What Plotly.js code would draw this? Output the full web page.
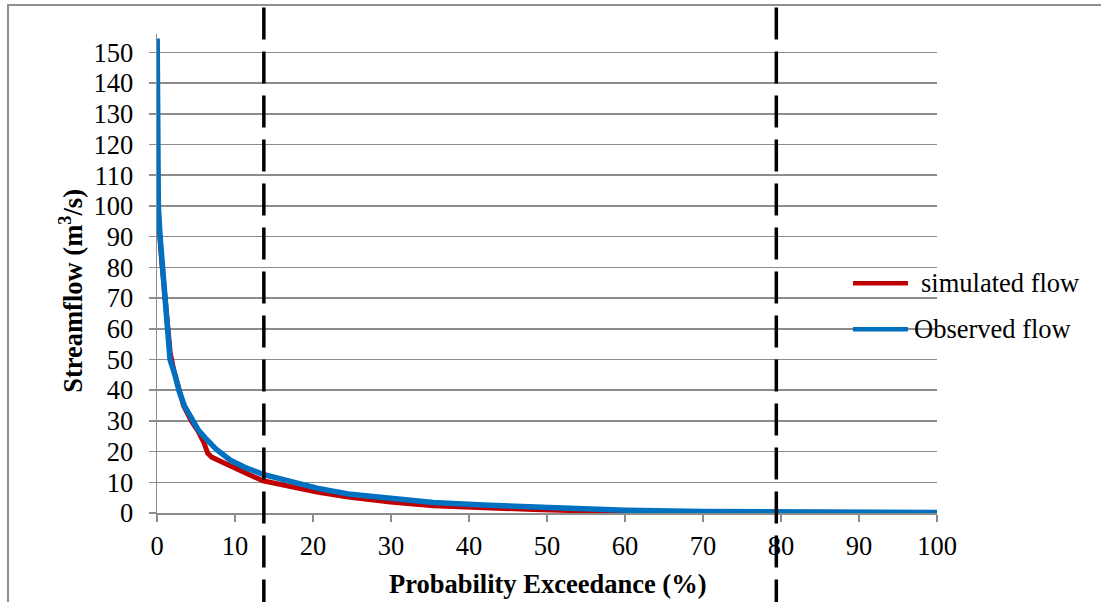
<!DOCTYPE html>
<html>
<head>
<meta charset="utf-8">
<script src="https://cdn.plot.ly/plotly-3.0.1.min.js"></script>
<style>
  html, body { margin: 0; padding: 0; background: #fff; overflow: hidden; }
  #wrap { position: relative; width: 1101px; height: 602px; overflow: hidden; }
  #frame { position: absolute; left: 7px; top: 4px; width: 1200px; height: 700px;
           border: 2px solid #8f8f8f; pointer-events: none; }
  #chart { position: absolute; left: 0; top: 0; width: 1101px; height: 602px; }
</style>
</head>
<body>
<div id="wrap">
  <div id="chart"></div>
  <div id="frame"></div>
</div>
<script>
// Flow duration curves (probability of exceedance %, streamflow m3/s)
const simX = [0, 0.3, 0.6, 1.0, 1.3, 1.7, 2.2, 2.8, 3.4, 4.4, 5.3, 6.0, 6.5, 7.0, 8.5, 10.6, 11.9, 13.6, 17.1, 20.5, 24.5, 29.9, 35.4, 41.8, 48.2, 54.6, 60, 70, 80, 90, 100];
const simY = [98, 92, 82, 72, 62, 52, 46, 40, 35, 30, 26.5, 23, 19.5, 18.2, 16.3, 14, 12.4, 10.5, 8.5, 6.8, 5.2, 3.6, 2.4, 1.6, 1.1, 0.7, 0.45, 0.15, 0.1, 0.05, 0.03];

const obsX = [0.02, 0.1, 0.17, 0.4, 0.73, 1.07, 1.37, 1.67, 2.3, 2.8, 3.5, 4.4, 5.3, 6.2, 7.7, 9.4, 11.5, 13.6, 17.1, 20.5, 24.5, 29.9, 35.4, 41.8, 48.2, 54.6, 60, 70, 80, 90, 100];
const obsY = [154.5, 130, 100, 90, 80, 70, 60, 50, 45, 40, 35, 31.3, 27, 24.4, 20.5, 17.2, 14.6, 12.6, 10.2, 8.1, 6.2, 4.8, 3.4, 2.6, 2.0, 1.5, 0.9, 0.45, 0.25, 0.2, 0.15];

const seriesNames = ['simulated flow', 'Observed flow'];
const seriesColors = ['#C00000', '#0070C0'];
const thresholds = [13.7, 79.4];           // dashed vertical markers (%)
const yTicks = [0,10,20,30,40,50,60,70,80,90,100,110,120,130,140,150];
const xTicks = [0,10,20,30,40,50,60,70,80,90,100];

const serif = '"Liberation Serif", "Times New Roman", serif';
const fs = 26.5;

const traces = [
  { x: simX, y: simY, type: 'scatter', mode: 'lines', name: seriesNames[0],
    line: { color: seriesColors[0], width: 5 }, showlegend: false },
  { x: obsX, y: obsY, type: 'scatter', mode: 'lines', name: seriesNames[1],
    line: { color: seriesColors[1], width: 5.5 }, showlegend: false }
];

const shapes = thresholds.map(v => ({
  type: 'line', xref: 'x', yref: 'paper', x0: v, x1: v, y0: 1.0555, y1: -0.21,
  line: { color: '#000', width: 3.5, dash: '32px,12px' }, layer: 'above'
}));

// custom legend (long line samples as in the original)
const legY = [0.4798, 0.3838];
const legTextX = [0.9769, 0.9679];
seriesNames.forEach((n, i) => {
  shapes.push({ type: 'line', xref: 'paper', yref: 'paper', x0: 0.8923, x1: 0.9628,
    y0: legY[i], y1: legY[i], line: { color: seriesColors[i], width: 4.5 } });
});

const annotations = seriesNames.map((n, i) => ({
  text: n, xref: 'paper', yref: 'paper', x: legTextX[i], y: legY[i],
  xanchor: 'left', yanchor: 'middle', showarrow: false,
  font: { family: serif, size: fs, color: '#000' }
}));
annotations.push({
  text: '<b>Probability Exceedance (%)</b>', xref: 'paper', yref: 'paper',
  x: 0.5, y: -0.148, xanchor: 'center', yanchor: 'middle', showarrow: false,
  font: { family: serif, size: fs, color: '#000' }
});
annotations.push({
  text: '<b>Streamflow (m<sup>3</sup>/s)</b>', xref: 'paper', yref: 'paper',
  x: -0.1095, y: 0.463, xanchor: 'center', yanchor: 'middle', textangle: -90,
  showarrow: false, font: { family: serif, size: fs, color: '#000' }
});

const layout = {
  width: 1101, height: 602,
  margin: { l: 157, r: 164, t: 34, b: 89, pad: 0 },
  paper_bgcolor: 'rgba(0,0,0,0)', plot_bgcolor: 'rgba(0,0,0,0)',
  showlegend: false,
  font: { family: serif, size: fs, color: '#000' },
  xaxis: {
    range: [0, 100], tickvals: xTicks, ticktext: xTicks.map(String),
    showgrid: false, zeroline: false,
    showline: true, linecolor: '#8c8c8c', linewidth: 1.5,
    ticks: 'outside', ticklen: 7, tickwidth: 1.5, tickcolor: '#8c8c8c',
    ticklabelstandoff: 2,
    tickfont: { family: serif, size: fs, color: '#000' }
  },
  yaxis: {
    range: [0, 156], tickvals: yTicks, ticktext: yTicks.map(String),
    showgrid: true, gridcolor: '#8c8c8c', gridwidth: 1.5, zeroline: false,
    showline: true, linecolor: '#8c8c8c', linewidth: 1.5,
    ticks: 'outside', ticklen: 7, tickwidth: 1.5, tickcolor: '#8c8c8c',
    ticklabelstandoff: 10,
    tickfont: { family: serif, size: fs, color: '#000' }
  },
  shapes: shapes,
  annotations: annotations
};

Plotly.newPlot('chart', traces, layout, { staticPlot: true, displayModeBar: false });
</script>
</body>
</html>
